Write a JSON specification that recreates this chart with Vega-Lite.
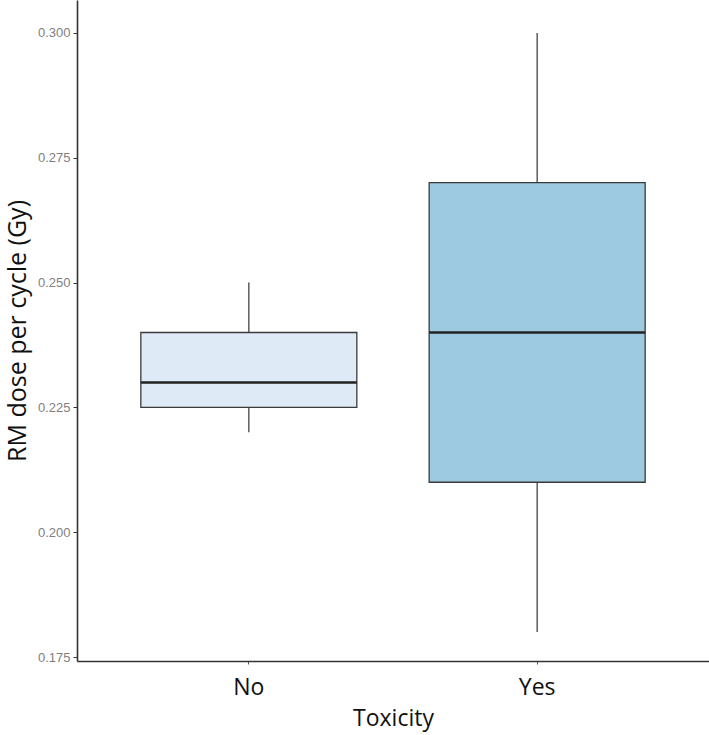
{
  "$schema": "https://vega.github.io/schema/vega-lite/v6.json",
  "width": 632,
  "height": 661,
  "autosize": {"type": "none"},
  "padding": {"left": 77, "top": 0, "right": 0, "bottom": 74},
  "background": "white",
  "config": {"view": {"stroke": null}, "font": "Liberation Sans"},
  "data": {"values": [
    {"Toxicity": "No", "min": 0.220, "q1": 0.225, "median": 0.230, "q3": 0.240, "max": 0.250},
    {"Toxicity": "Yes", "min": 0.180, "q1": 0.210, "median": 0.240, "q3": 0.270, "max": 0.300}
  ]},
  "encoding": {
    "x": {
      "field": "Toxicity", "type": "nominal",
      "scale": {"paddingInner": 0, "paddingOuter": 0.096},
      "axis": {
        "title": "Toxicity", "labelAngle": 0, "labelFont": "Open Sans", "labelFontSize": 23, "labelColor": "#111",
        "titleFont": "Open Sans", "titleFontSize": 23, "titleFontWeight": "normal", "titleColor": "#111",
        "labelPadding": 12, "titlePadding": 8, "tickSize": 3, "tickColor": "#555", "domainColor": "#333", "domainWidth": 1.6
      }
    }
  },
  "layer": [
    {
      "mark": {"type": "rule", "color": "#444", "strokeWidth": 1.3},
      "encoding": {
        "y": {"field": "min", "type": "quantitative",
          "scale": {"domain": [0.1742, 0.3066], "nice": false, "zero": false},
          "axis": {
            "title": "RM dose per cycle (Gy)", "values": [0.175, 0.2, 0.225, 0.25, 0.275, 0.3], "format": ".3f",
            "grid": false, "labelFontSize": 13, "labelColor": "#808080", "tickSize": 4, "tickColor": "#333",
            "domainColor": "#333", "domainWidth": 1.6, "labelPadding": 3,
            "titleFont": "Open Sans", "titleFontSize": 25, "titleFontWeight": "normal", "titleColor": "#111", "titlePadding": 7
          }
        },
        "y2": {"field": "max"}
      }
    },
    {
      "mark": {"type": "bar", "width": 216, "stroke": "#3a3a3a", "strokeWidth": 1.3},
      "encoding": {
        "y": {"field": "q1", "type": "quantitative"},
        "y2": {"field": "q3"},
        "fill": {"field": "Toxicity", "type": "nominal", "scale": {"domain": ["No", "Yes"], "range": ["#deeaf6", "#9ecae1"]}, "legend": null}
      }
    },
    {
      "mark": {"type": "tick", "size": 216, "thickness": 2.5, "color": "#222", "opacity": 1},
      "encoding": {
        "y": {"field": "median", "type": "quantitative"}
      }
    }
  ]
}
